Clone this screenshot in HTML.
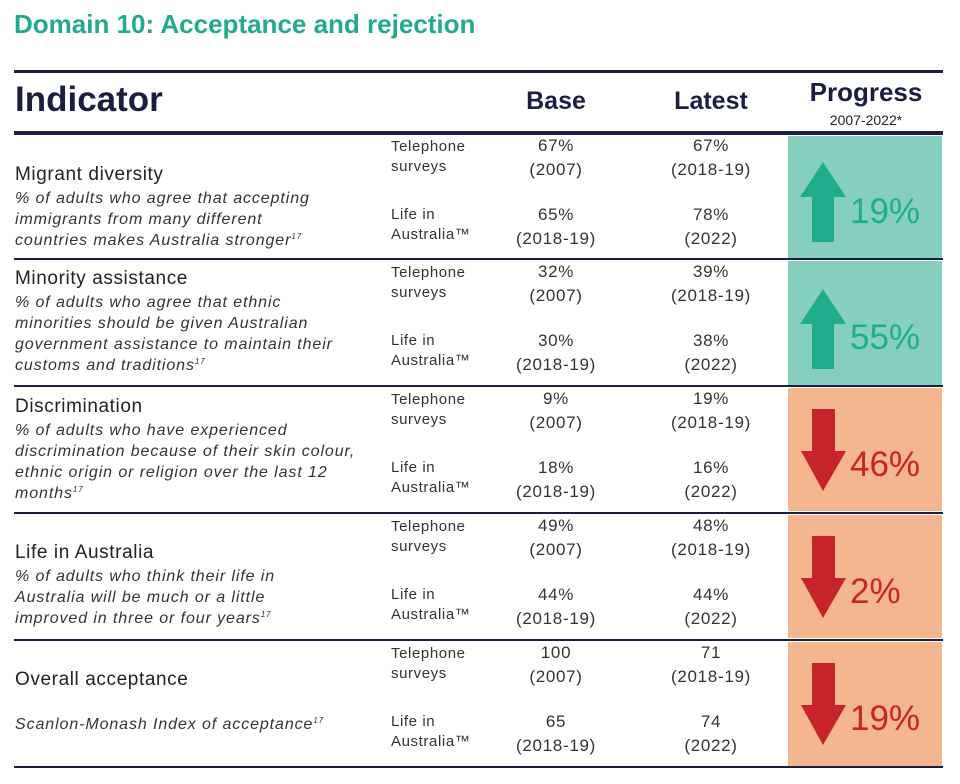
<!DOCTYPE html>
<html><head><meta charset="utf-8"><style>
body{margin:0;width:960px;height:784px;background:#fff;position:relative;overflow:hidden;font-family:"Liberation Sans",sans-serif;color:#2a2a2a}
.a{position:absolute;white-space:nowrap}
.h{color:#1b1f3f;font-weight:bold}
.ln{position:absolute;left:14px;width:929px;background:#1b1f3f}
.t{font-size:19px;letter-spacing:0.6px;color:#222}
.i{font-style:italic;font-size:16px;line-height:21px;letter-spacing:0.9px;color:#333}
.s{font-size:15px;line-height:20px;letter-spacing:0.6px;color:#333}
.v{font-size:17px;line-height:24px;letter-spacing:0.7px;text-align:center;width:140px;color:#333}
.box{position:absolute;left:788px;width:154px}
.pct{position:absolute;left:850px;font-size:35px}
sup{font-size:8px;line-height:0;vertical-align:6px}
</style></head><body>
<div class="a" style="left:14px;top:9px;font-size:26px;font-weight:bold;color:#22a98f">Domain 10: Acceptance and rejection</div>
<div class="ln" style="top:70px;height:3px"></div>
<div class="a h" style="left:15px;top:80px;font-size:35px">Indicator</div>
<div class="a h" style="left:486px;top:87px;font-size:25px;width:140px;text-align:center">Base</div>
<div class="a h" style="left:641px;top:87px;font-size:25px;width:140px;text-align:center">Latest</div>
<div class="a h" style="left:788px;top:77px;font-size:26px;width:156px;text-align:center">Progress</div>
<div class="a" style="left:788px;top:112px;font-size:14px;width:156px;text-align:center;color:#222">2007-2022*</div>
<div class="ln" style="top:131px;height:4px"></div>

<div class="box" style="top:136px;height:122px;background:#86cfc0"></div>
<div class="box" style="top:261px;height:124px;background:#86cfc0"></div>
<div class="box" style="top:388px;height:123px;background:#f4b68e"></div>
<div class="box" style="top:515px;height:123px;background:#f4b68e"></div>
<div class="box" style="top:642px;height:124px;background:#f4b68e"></div>

<div class="ln" style="top:258px;height:2px"></div>
<div class="ln" style="top:385px;height:2px"></div>
<div class="ln" style="top:512px;height:2px"></div>
<div class="ln" style="top:639px;height:2px"></div>
<div class="ln" style="top:766px;height:2px"></div>

<svg class="a" style="left:0;top:0" width="960" height="784">
<g fill="#1fae8b">
<polygon points="823,162 846,197 834,197 834,242 812,242 812,197 800,197"/>
<polygon points="823,289 846,324 834,324 834,369 812,369 812,324 800,324"/>
</g>
<g fill="#c6232b">
<polygon points="812,409 835,409 835,451 846,451 823,491 801,451 812,451"/>
<polygon points="812,536 835,536 835,578 846,578 823,618 801,578 812,578"/>
<polygon points="812,663 835,663 835,705 846,705 823,745 801,705 812,705"/>
</g>
</svg>
<div class="pct" style="top:192px;color:#1fae8b">19%</div>
<div class="pct" style="top:318px;color:#1fae8b">55%</div>
<div class="pct" style="top:445px;color:#c6232b">46%</div>
<div class="pct" style="top:572px;color:#c6232b">2%</div>
<div class="pct" style="top:699px;color:#c6232b">19%</div>

<div class="a t" style="left:15px;top:164px">Migrant diversity</div>
<div class="a i" style="left:15px;top:188px">% of adults who agree that accepting<br>immigrants from many different<br>countries makes Australia stronger<sup>17</sup></div>
<div class="a t" style="left:15px;top:268px">Minority assistance</div>
<div class="a i" style="left:15px;top:292px">% of adults who agree that ethnic<br>minorities should be given Australian<br>government assistance to maintain their<br>customs and traditions<sup>17</sup></div>
<div class="a t" style="left:15px;top:396px">Discrimination</div>
<div class="a i" style="left:15px;top:420px">% of adults who have experienced<br>discrimination because of their skin colour,<br>ethnic origin or religion over the last 12<br>months<sup>17</sup></div>
<div class="a t" style="left:15px;top:542px">Life in Australia</div>
<div class="a i" style="left:15px;top:566px">% of adults who think their life in<br>Australia will be much or a little<br>improved in three or four years<sup>17</sup></div>
<div class="a t" style="left:15px;top:669px">Overall acceptance</div>
<div class="a i" style="left:15px;top:714px">Scanlon-Monash Index of acceptance<sup>17</sup></div>

<div class="a s" style="left:391px;top:137px">Telephone<br>surveys</div>
<div class="a s" style="left:391px;top:205px">Life in<br>Australia™</div>
<div class="a v" style="left:486px;top:134px">67%<br>(2007)</div>
<div class="a v" style="left:641px;top:134px">67%<br>(2018-19)</div>
<div class="a v" style="left:486px;top:203px">65%<br>(2018-19)</div>
<div class="a v" style="left:641px;top:203px">78%<br>(2022)</div>

<div class="a s" style="left:391px;top:263px">Telephone<br>surveys</div>
<div class="a s" style="left:391px;top:331px">Life in<br>Australia™</div>
<div class="a v" style="left:486px;top:260px">32%<br>(2007)</div>
<div class="a v" style="left:641px;top:260px">39%<br>(2018-19)</div>
<div class="a v" style="left:486px;top:329px">30%<br>(2018-19)</div>
<div class="a v" style="left:641px;top:329px">38%<br>(2022)</div>

<div class="a s" style="left:391px;top:390px">Telephone<br>surveys</div>
<div class="a s" style="left:391px;top:458px">Life in<br>Australia™</div>
<div class="a v" style="left:486px;top:387px">9%<br>(2007)</div>
<div class="a v" style="left:641px;top:387px">19%<br>(2018-19)</div>
<div class="a v" style="left:486px;top:456px">18%<br>(2018-19)</div>
<div class="a v" style="left:641px;top:456px">16%<br>(2022)</div>

<div class="a s" style="left:391px;top:517px">Telephone<br>surveys</div>
<div class="a s" style="left:391px;top:585px">Life in<br>Australia™</div>
<div class="a v" style="left:486px;top:514px">49%<br>(2007)</div>
<div class="a v" style="left:641px;top:514px">48%<br>(2018-19)</div>
<div class="a v" style="left:486px;top:583px">44%<br>(2018-19)</div>
<div class="a v" style="left:641px;top:583px">44%<br>(2022)</div>

<div class="a s" style="left:391px;top:644px">Telephone<br>surveys</div>
<div class="a s" style="left:391px;top:712px">Life in<br>Australia™</div>
<div class="a v" style="left:486px;top:641px">100<br>(2007)</div>
<div class="a v" style="left:641px;top:641px">71<br>(2018-19)</div>
<div class="a v" style="left:486px;top:710px">65<br>(2018-19)</div>
<div class="a v" style="left:641px;top:710px">74<br>(2022)</div>
</body></html>
